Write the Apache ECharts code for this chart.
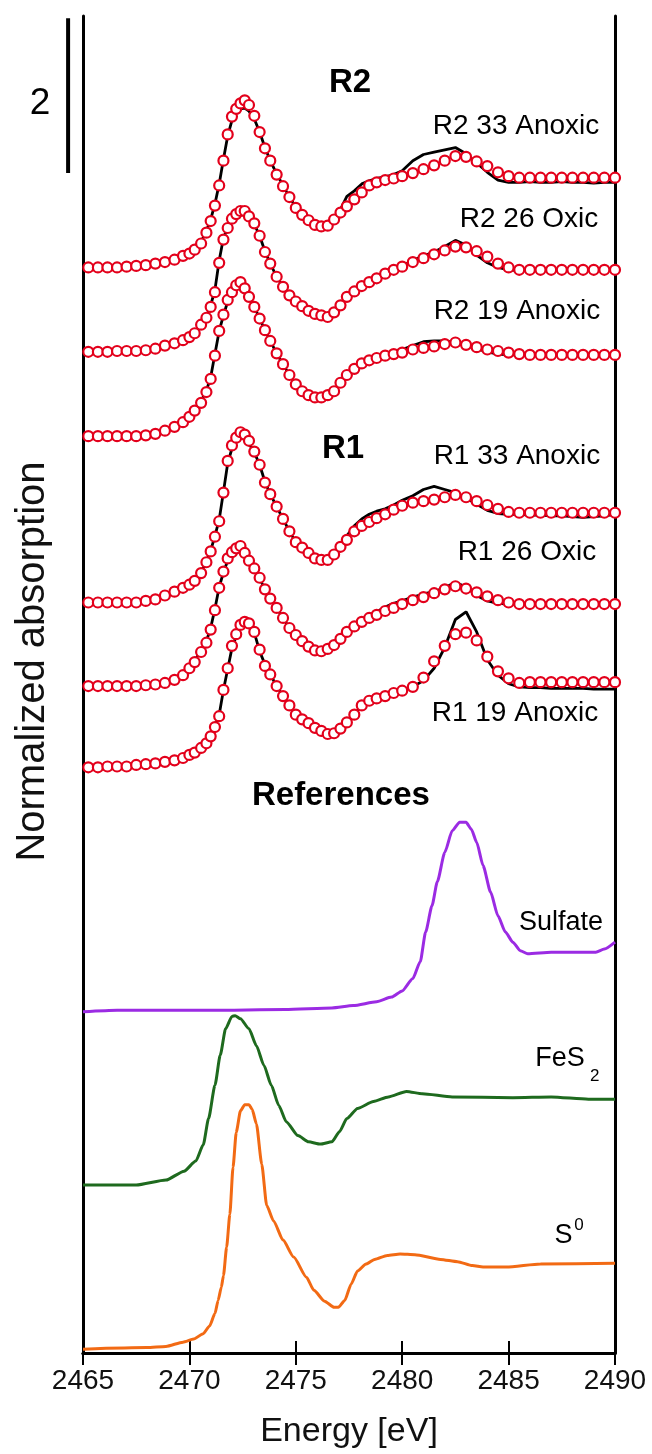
<!DOCTYPE html>
<html><head><meta charset="utf-8">
<script src="https://cdn.jsdelivr.net/npm/echarts@6/dist/echarts.min.js"></script>
<style>html,body{margin:0;padding:0;background:#fff}#chart{width:652px;height:1454px}</style>
</head><body><div id="chart"></div>
<script>
// ---------------- DATA ----------------
// Energy grid of the sample spectra (eV)
const energy = [2465.25,2465.7,2466.15,2466.6,2467.05,2467.5,2467.95,2468.4,2468.85,2469.3,2469.7,2470.0,
2470.25,2470.55,2470.8,2471.0,2471.2,2471.4,2471.6,2471.8,2472.0,2472.2,2472.4,2472.6,2472.8,
2473.05,2473.3,2473.55,2473.8,2474.1,2474.4,2474.7,2475.0,2475.3,2475.6,2475.9,2476.2,2476.5,2476.8,2477.1,2477.4,
2477.75,2478.1,2478.45,2478.8,2479.2,2479.6,2480.0,
2480.5,2481.0,2481.5,2482.0,2482.5,2483.0,2483.5,2484.0,2484.5,2485.0,2485.5,
2486.0,2486.5,2487.0,2487.5,2488.0,2488.5,2489.0,2489.5,2490.0];

// Sample names and vertical offsets of the stacked spectra
const sampleNames = ['R2 33 Anoxic','R2 26 Oxic','R2 19 Anoxic','R1 33 Anoxic','R1 26 Oxic','R1 19 Anoxic'];
const sampleOffsets = [14.03, 12.94, 11.85, 9.70, 8.62, 7.57];

// Measured spectra (black lines)
const r2_33_data = [0,0.01,0,0,0.01,0.02,0.03,0.05,0.07,0.11,0.15,0.19,
0.24,0.33,0.47,0.62,0.82,1.08,1.40,1.70,1.90,2.00,2.05,2.06,2.02,
1.92,1.75,1.55,1.38,1.21,1.06,0.91,0.78,0.68,0.60,0.54,0.52,0.55,0.63,0.75,0.92,
0.99,1.08,1.12,1.15,1.17,1.20,1.25,
1.38,1.46,1.49,1.52,1.55,1.47,1.35,1.23,1.13,1.10,1.10,
1.11,1.10,1.10,1.11,1.10,1.10,1.09,1.10,1.10];
const r2_26_data = [0,0,0.01,0.01,0.01,0.01,0.02,0.04,0.08,0.11,0.15,0.19,
0.25,0.36,0.45,0.60,0.80,1.18,1.47,1.60,1.70,1.76,1.78,1.78,1.73,
1.65,1.50,1.30,1.14,0.97,0.84,0.73,0.65,0.59,0.53,0.49,0.47,0.46,0.52,0.62,0.72,
0.79,0.86,0.91,0.96,1.02,1.07,1.11,
1.18,1.24,1.29,1.36,1.44,1.38,1.25,1.15,1.09,1.06,1.05,
1.05,1.05,1.05,1.05,1.06,1.05,1.05,1.05,1.05];
const r2_19_data = [0,0,0,0,0.01,0,0.01,0.03,0.07,0.12,0.18,0.25,
0.34,0.45,0.59,0.76,1.06,1.36,1.56,1.74,1.84,1.92,1.96,1.90,1.79,
1.67,1.52,1.37,1.23,1.07,0.93,0.79,0.67,0.58,0.53,0.50,0.50,0.53,0.59,0.70,0.80,
0.89,0.96,1.00,1.03,1.07,1.10,1.12,
1.17,1.22,1.23,1.23,1.21,1.17,1.13,1.09,1.06,1.05,1.05,
1.05,1.05,1.05,1.05,1.05,1.05,1.05,1.05,1.05];
const r1_33_data = [0,0,0,0,0.01,0,0.02,0.04,0.09,0.14,0.19,0.23,
0.29,0.39,0.53,0.67,0.86,1.07,1.43,1.80,1.99,2.09,2.14,2.12,2.05,
1.94,1.78,1.56,1.40,1.24,1.08,0.92,0.78,0.71,0.64,0.57,0.55,0.56,0.63,0.75,0.86,
0.99,1.08,1.14,1.18,1.21,1.26,1.32,
1.38,1.46,1.50,1.46,1.42,1.35,1.27,1.19,1.15,1.14,1.14,
1.13,1.13,1.12,1.12,1.11,1.10,1.11,1.12,1.14];
const r1_26_data = [0,0,0,0,0.01,0,0.01,0.02,0.05,0.09,0.15,0.24,
0.33,0.46,0.58,0.75,1.00,1.28,1.47,1.62,1.70,1.75,1.77,1.70,1.60,
1.50,1.39,1.25,1.13,1.01,0.88,0.75,0.66,0.58,0.51,0.46,0.45,0.48,0.54,0.62,0.71,
0.78,0.84,0.90,0.96,1.02,1.07,1.10,
1.15,1.19,1.22,1.27,1.34,1.28,1.17,1.10,1.07,1.06,1.06,
1.05,1.06,1.06,1.05,1.06,1.06,1.05,1.06,1.06];
const r1_19_data = [0,0,0.01,0.01,0.01,0.03,0.04,0.05,0.07,0.09,0.12,0.16,
0.20,0.26,0.32,0.41,0.53,0.68,1.00,1.27,1.54,1.70,1.80,1.82,1.81,
1.74,1.50,1.33,1.20,1.05,0.92,0.80,0.68,0.62,0.57,0.51,0.47,0.44,0.45,0.51,0.59,
0.68,0.80,0.86,0.89,0.92,0.96,0.99,
1.04,1.12,1.28,1.55,1.91,2.01,1.75,1.39,1.19,1.08,1.04,
1.03,1.03,1.02,1.02,1.02,1.02,1.01,1.01,1.01];

// Linear-combination fits (red open circles)
const r2_33_fit = [0,0,0,0,0.01,0.02,0.03,0.05,0.07,0.10,0.15,0.18,
0.23,0.31,0.45,0.60,0.80,1.06,1.38,1.72,1.95,2.05,2.12,2.16,2.10,
1.96,1.75,1.54,1.38,1.20,1.05,0.91,0.77,0.68,0.61,0.55,0.53,0.54,0.62,0.71,0.79,
0.88,0.97,1.06,1.10,1.13,1.15,1.18,
1.22,1.27,1.32,1.38,1.44,1.43,1.37,1.31,1.23,1.18,1.16,
1.16,1.16,1.16,1.16,1.16,1.16,1.16,1.16,1.16];
const r2_26_fit = [0,0,0,0.01,0.01,0.01,0.02,0.04,0.08,0.11,0.15,0.19,
0.24,0.35,0.44,0.58,0.77,1.15,1.45,1.60,1.72,1.78,1.82,1.82,1.75,
1.66,1.50,1.29,1.14,0.97,0.84,0.73,0.65,0.59,0.53,0.49,0.47,0.45,0.51,0.60,0.71,
0.78,0.85,0.90,0.95,1.01,1.06,1.10,
1.16,1.21,1.26,1.31,1.36,1.35,1.30,1.23,1.14,1.09,1.06,
1.06,1.06,1.06,1.06,1.06,1.06,1.06,1.06,1.06];
const r2_19_fit = [0,0,0,0,0,0,0.01,0.03,0.07,0.12,0.18,0.25,
0.33,0.43,0.57,0.74,1.04,1.36,1.57,1.76,1.86,1.95,1.99,1.91,1.80,
1.67,1.52,1.37,1.23,1.07,0.93,0.79,0.67,0.58,0.53,0.50,0.50,0.53,0.58,0.69,0.79,
0.87,0.94,0.98,1.01,1.04,1.06,1.08,
1.12,1.14,1.16,1.19,1.21,1.18,1.15,1.12,1.10,1.08,1.06,
1.05,1.05,1.05,1.05,1.05,1.05,1.05,1.05,1.05];
const r1_33_fit = [0,0,0,0,0,0,0.02,0.04,0.09,0.14,0.19,0.23,
0.28,0.38,0.52,0.66,0.85,1.05,1.42,1.83,2.03,2.13,2.20,2.17,2.09,
1.95,1.78,1.55,1.40,1.24,1.08,0.92,0.78,0.71,0.64,0.57,0.55,0.55,0.62,0.72,0.81,
0.92,0.99,1.04,1.09,1.14,1.20,1.25,
1.29,1.31,1.33,1.36,1.39,1.36,1.31,1.26,1.21,1.17,1.16,
1.16,1.16,1.16,1.16,1.16,1.16,1.16,1.16,1.16];
const r1_26_fit = [0,0,0,0,0,0,0.01,0.02,0.04,0.08,0.14,0.23,
0.31,0.44,0.56,0.73,0.98,1.27,1.48,1.65,1.73,1.78,1.81,1.72,1.62,
1.52,1.40,1.25,1.13,1.01,0.88,0.75,0.66,0.58,0.51,0.46,0.45,0.48,0.53,0.61,0.70,
0.77,0.83,0.88,0.92,0.97,1.01,1.06,
1.11,1.15,1.20,1.25,1.29,1.26,1.21,1.16,1.11,1.08,1.06,
1.06,1.06,1.06,1.06,1.06,1.06,1.06,1.06,1.06];
const r1_19_fit = [0,0,0.01,0.01,0.01,0.03,0.04,0.05,0.07,0.09,0.12,0.16,
0.19,0.25,0.31,0.40,0.52,0.66,1.00,1.28,1.57,1.72,1.84,1.88,1.86,
1.75,1.52,1.31,1.20,1.05,0.92,0.80,0.68,0.62,0.57,0.51,0.47,0.43,0.44,0.50,0.58,
0.68,0.80,0.86,0.89,0.92,0.96,0.99,
1.04,1.16,1.37,1.57,1.72,1.74,1.64,1.43,1.24,1.15,1.09,
1.10,1.10,1.10,1.10,1.10,1.10,1.10,1.10,1.10];

// Reference spectra
const refNames = ['Sulfate','FeS2','S0'];
const refOffsets = [4.41, 2.17, 0.05];
const sulfateE = [2465.0,2466.6,2472.1,2474.5,2476.7,2477.7,2478.8,2479.5,2480.0,2480.5,2480.85,2481.1,2481.4,2481.65,2482.0,2482.35,2482.7,2483.0,2483.25,2483.5,2483.8,2484.15,2484.5,2484.85,2485.2,2485.55,2485.9,2487.0,2489.1,2489.5,2490.0];
const sulfateAbs = [0,0.02,0.02,0.03,0.05,0.08,0.13,0.19,0.27,0.43,0.65,1.03,1.37,1.68,2.06,2.34,2.45,2.45,2.36,2.19,1.89,1.55,1.24,1.03,0.90,0.79,0.75,0.77,0.77,0.81,0.90];
const fes2E = [2465.0,2467.5,2468.9,2469.75,2470.3,2470.65,2470.9,2471.2,2471.45,2471.7,2472.0,2472.15,2472.4,2472.8,2473.15,2473.5,2473.85,2474.2,2474.55,2475.1,2475.6,2476.15,2476.7,2477.05,2477.4,2477.9,2478.65,2479.35,2480.2,2480.95,2482.35,2485.2,2487.0,2488.75,2490.0];
const fes2Abs = [0,0,0.065,0.18,0.31,0.52,0.86,1.29,1.68,2.02,2.18,2.19,2.15,2.02,1.80,1.55,1.29,1.03,0.82,0.64,0.56,0.53,0.56,0.69,0.86,0.99,1.08,1.14,1.21,1.18,1.14,1.13,1.14,1.11,1.11];
const s0E = [2465.0,2468.0,2468.9,2469.7,2470.2,2470.65,2470.95,2471.2,2471.35,2471.5,2471.6,2471.75,2471.9,2472.05,2472.2,2472.4,2472.6,2472.8,2472.95,2473.15,2473.4,2473.63,2473.95,2474.4,2474.9,2475.5,2475.85,2476.35,2476.8,2477.0,2477.3,2477.6,2477.9,2478.3,2478.7,2479.3,2479.9,2480.6,2481.8,2482.6,2483.3,2483.8,2484.9,2486.5,2490.0];
const s0Abs = [0,0.02,0.035,0.09,0.13,0.20,0.30,0.46,0.63,0.80,0.95,1.32,1.74,2.35,2.80,3.08,3.16,3.16,3.10,2.91,2.39,1.86,1.66,1.41,1.19,0.93,0.76,0.62,0.54,0.54,0.63,0.84,1.01,1.10,1.16,1.21,1.23,1.22,1.16,1.13,1.08,1.06,1.06,1.10,1.11];

// Axis
const xTicks = [2465, 2470, 2475, 2480, 2485, 2490];
const scaleBarValue = 2;   // length of the scale bar in normalized absorption

// ---------------- LAYOUT (positions in data units) ----------------
const xMin = 2465, xMax = 2490, xStep = 5;
const yMin = 0, yMax = 17.28;
const scaleBarX = 2464.3, scaleBarBottom = 15.25;
const annotations = [
  {text:'R2', at:[2477.55,16.41], style:'group'},
  {text:'R2 33 Anoxic', at:[2485.35,15.86], style:'sample'},
  {text:'R2 26 Oxic', at:[2485.96,14.65], style:'sample'},
  {text:'R2 19 Anoxic', at:[2485.39,13.46], style:'sample'},
  {text:'R1', at:[2477.22,11.68], style:'group'},
  {text:'R1 33 Anoxic', at:[2485.39,11.59], style:'sample'},
  {text:'R1 26 Oxic', at:[2485.86,10.35], style:'sample'},
  {text:'R1 19 Anoxic', at:[2485.30,8.27], style:'sample'},
  {text:'References', at:[2477.12,7.20], style:'group'},
  {text:'Sulfate', at:[2487.46,5.56], style:'ref'},
  {text:'FeS', at:[2487.42,3.80], style:'ref'},
  {text:'2', at:[2489.05,3.57], style:'script'},
  {text:'S', at:[2487.58,1.52], style:'ref'},
  {text:'0', at:[2488.31,1.65], style:'script'},
  {text:String(scaleBarValue), at:[2462.98,16.15], style:'scale'}
];

// ---------------- STYLES ----------------
const FONT = "'Liberation Sans', Arial, sans-serif";
const textStyles = {
  group: {fontSize:33, fontWeight:'bold', color:'#000'},
  sample:{fontSize:28, color:'#000'},
  ref:   {fontSize:27, color:'#000'},
  script:{fontSize:17, color:'#000'},
  scale: {fontSize:37, color:'#000'}
};
const refColors = ['#9b2be3', '#1e6a1e', '#f26a14'];

// ---------------- BUILD ----------------
const sampleData = [r2_33_data, r2_26_data, r2_19_data, r1_33_data, r1_26_data, r1_19_data];
const sampleFit  = [r2_33_fit, r2_26_fit, r2_19_fit, r1_33_fit, r1_26_fit, r1_19_fit];
const refE = [sulfateE, fes2E, s0E];
const refAbs = [sulfateAbs, fes2Abs, s0Abs];

const series = [];
sampleNames.forEach((name, k) => {
  const off = sampleOffsets[k];
  series.push({
    name: name + ' data', type:'line', showSymbol:false, z:2, silent:true,
    data: energy.map((e,i) => [e, off + sampleData[k][i]]),
    lineStyle:{color:'#000', width:2.8}
  });
  series.push({
    name: name + ' fit', type:'scatter', z:3, silent:true,
    symbol:'circle', symbolSize:10,
    data: energy.map((e,i) => [e, off + sampleFit[k][i]]),
    itemStyle:{color:'#ffffff', borderColor:'#e3001b', borderWidth:2.2, opacity:1}
  });
});
refNames.forEach((name, k) => {
  const off = refOffsets[k];
  series.push({
    name, type:'line', showSymbol:false, z:2, silent:true,
    smooth:0.2, smoothMonotone:'x',
    data: refE[k].map((e,i) => [e, off + refAbs[k][i]]),
    lineStyle:{color:refColors[k], width:3}
  });
});
// scale bar (drawn through the axes' scales)
series.push({
  name:'scale', type:'custom', clip:false, silent:true, z:4,
  data: [[scaleBarX, scaleBarBottom, scaleBarBottom + scaleBarValue]],
  renderItem: (params, api) => {
    const p1 = api.coord([api.value(0), api.value(1)]);
    const p2 = api.coord([api.value(0), api.value(2)]);
    return {type:'line', shape:{x1:p1[0], y1:p1[1], x2:p2[0], y2:p2[1]},
            style:{stroke:'#000', lineWidth:4}};
  }
});
// text annotations
series.push({
  name:'labels', type:'scatter', clip:false, silent:true, z:5,
  symbolSize:0, itemStyle:{color:'#000', opacity:1},
  data: annotations.map(a => ({
    value: a.at,
    label: Object.assign({show:true, position:'inside', align:'center', verticalAlign:'middle',
      fontFamily:FONT, formatter:a.text, opacity:1, textBorderWidth:0}, textStyles[a.style])
  }))
});

const axisLineStyle = {show:true, lineStyle:{color:'#000', width:3}};
const option = {
  animation:false,
  backgroundColor:'#fff',
  grid:{left:83, right:37, top:16, bottom:99, containLabel:false},
  xAxis:[
    {type:'value', position:'bottom', min:xMin, max:xMax, interval:xStep,
     axisLine:axisLineStyle,
     axisTick:{show:true, inside:true, length:12, lineStyle:{color:'#000', width:2}},
     axisLabel:{show:true, fontSize:28, color:'#111', margin:14, fontFamily:FONT,
       showMinLabel:true, showMaxLabel:true,
       formatter: v => xTicks.includes(v) ? String(v) : ''},
     splitLine:{show:false},
     name:'Energy [eV]', nameLocation:'middle', nameGap:62,
     nameTextStyle:{fontSize:34, color:'#111', fontFamily:FONT}},
    {type:'value', position:'top', min:xMin, max:xMax, interval:xStep,
     axisLine:axisLineStyle,
     axisTick:{show:true, inside:true, length:12, lineStyle:{color:'#000', width:2}},
     axisLabel:{show:false}, splitLine:{show:false}}
  ],
  yAxis:[
    {type:'value', position:'left', min:yMin, max:yMax,
     axisLine:axisLineStyle, axisTick:{show:false}, axisLabel:{show:false}, splitLine:{show:false},
     name:'Normalized absorption', nameLocation:'middle', nameGap:30,
     nameTextStyle:{fontSize:40, color:'#111', fontFamily:FONT, padding:[0,0,0,46]}},
    {type:'value', position:'right', min:yMin, max:yMax,
     axisLine:axisLineStyle, axisTick:{show:false}, axisLabel:{show:false}, splitLine:{show:false}}
  ],
  series
};
const chart = echarts.init(document.getElementById('chart'));
chart.setOption(option);
</script></body></html>
